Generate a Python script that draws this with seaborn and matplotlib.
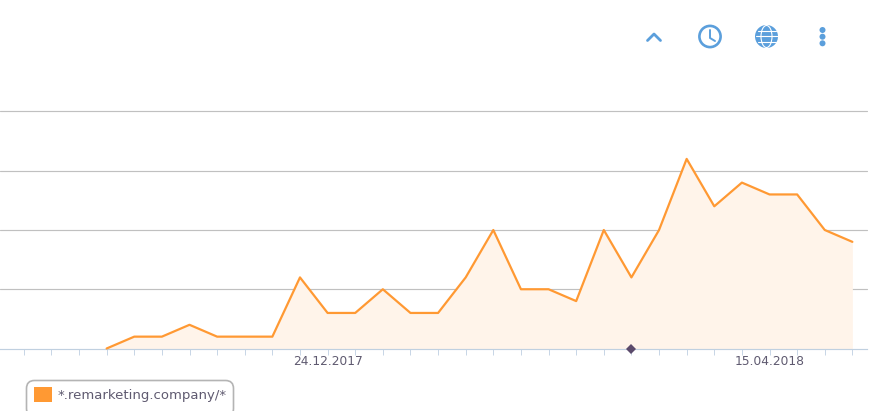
from datetime import datetime, timedelta

import matplotlib.dates as mdates
import matplotlib.pyplot as plt
import pandas as pd
import seaborn as sns
from matplotlib.patches import Circle, Ellipse, FancyBboxPatch, Patch
from matplotlib.ticker import FixedLocator, NullFormatter

# one point per week
first_week = "2017-10-29"
hits = [0, 1, 1, 2, 1, 1, 1, 6, 3, 3, 5, 3, 3, 6, 10, 5, 5, 4, 10, 6, 10, 16, 12, 14, 13, 13, 10, 9]
tick_start = "2017-10-08"
tick_end = "2018-05-06"
labelled = ["2017-12-24", "2018-04-15"]
marker_day = "2018-03-11"
series_name = "*.remarketing.company/*"

ORANGE = "#ff9933"
FILL = "#fff4ea"
ICON = "#5b9fdc"
TEXT = "#5f5a70"

W, H = 875, 411
PX_PER_WEEK = 27.62
ANCHOR_PX = 327.6

df = pd.DataFrame({"date": pd.date_range(first_week, periods=len(hits), freq="7D"), "hits": hits})

sns.set_theme(style="white")
fig = plt.figure(figsize=(W / 100, H / 100), dpi=100)
ax = fig.add_axes([0, (H - 348.5) / H, 867 / W, 237 / H])

ax.fill_between(df["date"], df["hits"], color=FILL, lw=0, zorder=1)
sns.lineplot(data=df, x="date", y="hits", color=ORANGE, lw=1.6, ax=ax, zorder=3, clip_on=False)

# x range worked out from the first labelled date's pixel position
anchor = datetime(2017, 12, 24)
ax.set_xlim(
    anchor - timedelta(days=ANCHOR_PX / PX_PER_WEEK * 7),
    anchor + timedelta(days=(867 - ANCHOR_PX) / PX_PER_WEEK * 7),
)
ax.set_ylim(0, 20)
ax.set_xlabel("")
ax.set_ylabel("")

ax.yaxis.set_major_locator(FixedLocator([5, 10, 15, 20]))
ax.yaxis.set_major_formatter(NullFormatter())
ax.tick_params(axis="y", length=0)
ax.grid(axis="y", color="#c0c0c0", lw=0.85)
for line in ax.get_ygridlines():
    line.set_clip_on(False)
ax.set_axisbelow(True)

weeks = pd.date_range(tick_start, tick_end, freq="7D")
ax.xaxis.set_major_locator(FixedLocator(mdates.date2num(weeks)))
ax.xaxis.set_major_formatter(NullFormatter())
ax.tick_params(axis="x", length=6 * 0.72, width=0.72, color="#c8d6e6", bottom=True)

for day in labelled:
    ax.annotate(
        pd.Timestamp(day).strftime("%d.%m.%Y"), (pd.Timestamp(day), 0),
        xytext=(0, -13), textcoords="offset pixels", ha="center", va="center",
        fontsize=8.8, color=TEXT, family="DejaVu Sans",
    )

for side in ["top", "left", "right"]:
    ax.spines[side].set_visible(False)
ax.spines["bottom"].set_color("#c0d0e0")
ax.spines["bottom"].set_linewidth(0.85)

ax.plot([pd.Timestamp(marker_day)], [0], marker="D", ms=5, color="#5b4a6b", mew=0, clip_on=False, zorder=5)

# toolbar icons and legend box, drawn in pixel space
icons = fig.add_axes([0, 0, 1, 1], facecolor="none")
icons.set_xlim(0, W)
icons.set_ylim(H, 0)
icons.axis("off")
icons.plot([647.5, 654, 660.5], [40.5, 34, 40.5], color=ICON, lw=2.0, solid_capstyle="round")
icons.add_patch(Circle((710, 36.5), 10.6, fill=False, ec=ICON, lw=1.9))
icons.plot([710, 710, 715], [30, 38, 41], color=ICON, lw=1.4)
icons.add_patch(Circle((766.5, 36.5), 11.5, fc=ICON, ec="none"))
icons.add_patch(Ellipse((766.5, 36.5), 11, 22, fill=False, ec="white", lw=0.8))
for y, half in zip([31, 36.5, 42], [9, 11, 9]):
    icons.plot([766.5 - half, 766.5 + half], [y, y], color="white", lw=0.8)
for y in [30, 36.7, 43.3]:
    icons.add_patch(Circle((822.5, y), 3.0, fc=ICON, ec="none"))
icons.add_patch(
    FancyBboxPatch((26.5, 380.5), 207, 36, boxstyle="round,pad=0,rounding_size=8",
                   fc="white", ec="#b4b4b4", lw=1.2)
)
icons.set_zorder(5)

handle = Patch(facecolor=ORANGE, edgecolor="none", label=series_name)
legend = fig.legend(
    handles=[handle], loc="lower left", bbox_to_anchor=(26 / W, 1 / H), borderaxespad=0,
    frameon=False, fontsize=9.5, labelcolor=TEXT, handlelength=1.36, handleheight=1.3,
    handletextpad=0.45, borderpad=0.6,
)
legend.get_texts()[0].set_family("DejaVu Sans")
legend.set_zorder(10)

fig.savefig("out.png", dpi=100, facecolor="white")
